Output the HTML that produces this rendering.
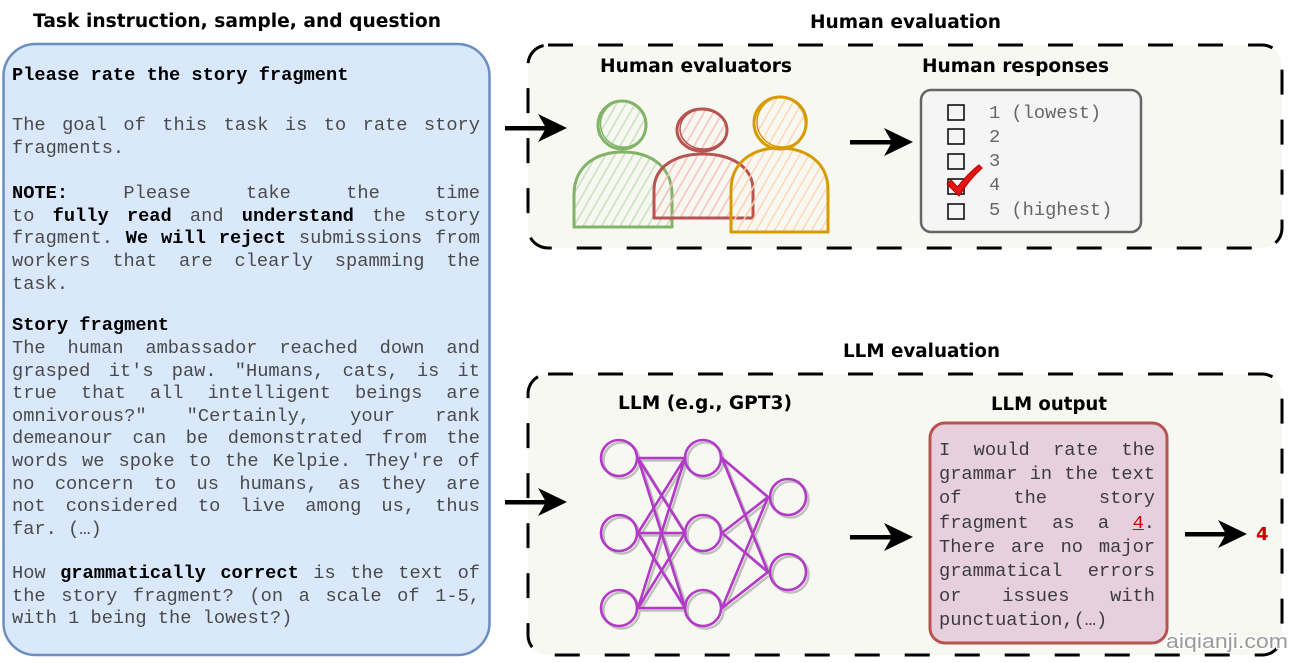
<!DOCTYPE html>
<html>
<head>
<meta charset="utf-8">
<style>
  html, body { margin: 0; padding: 0; background: #ffffff; }
  #wrap { position: relative; width: 1299px; height: 663px; overflow: hidden; background: #ffffff; }
  svg { position: absolute; left: 0; top: 0; }
  .m { position: absolute; font-family: "Liberation Mono", "Courier New", monospace; font-size: 18.7px; line-height: 22.6px; height: 22.6px; color: #4a4a4a; white-space: normal; }
  .m b { color: #000; font-weight: bold; }
  .L { left: 12px; width: 468px; }
  .O { left: 939px; width: 216px; color: #3c3c3c; }
  .j { text-align: justify; text-align-last: justify; }
  .r { left: 989px; color: #666; }
</style>
</head>
<body>
<div id="wrap">
<svg width="1299" height="663" viewBox="0 0 1299 663" xmlns="http://www.w3.org/2000/svg">
  <defs>
    <pattern id="hg" width="8" height="8" patternUnits="userSpaceOnUse" patternTransform="rotate(30)">
      <line x1="2" y1="0" x2="2" y2="8" stroke="#c4e0b8" stroke-width="1.5"/>
    </pattern>
    <pattern id="hr" width="8" height="8" patternUnits="userSpaceOnUse" patternTransform="rotate(30)">
      <line x1="2" y1="0" x2="2" y2="8" stroke="#f5c0bd" stroke-width="1.5"/>
    </pattern>
    <pattern id="ho" width="8" height="8" patternUnits="userSpaceOnUse" patternTransform="rotate(30)">
      <line x1="2" y1="0" x2="2" y2="8" stroke="#ffd6b5" stroke-width="1.5"/>
    </pattern>
  </defs>

  <!-- Titles -->
  <g font-family="'DejaVu Sans', Verdana, sans-serif" font-weight="bold" font-size="18.5" fill="#000">
    <text x="237" y="27" text-anchor="middle" textLength="408" lengthAdjust="spacingAndGlyphs">Task instruction, sample, and question</text>
    <text x="905.5" y="28" text-anchor="middle" textLength="191" lengthAdjust="spacingAndGlyphs">Human evaluation</text>
    <text x="921.5" y="357" text-anchor="middle" textLength="157" lengthAdjust="spacingAndGlyphs">LLM evaluation</text>
  </g>

  <!-- Left instruction box -->
  <rect x="3.5" y="44" width="486" height="611" rx="32" ry="32" fill="#dae8fc" stroke="#6c8ebf" stroke-width="2.5"/>

  <!-- Human evaluation dashed box -->
  <rect x="528" y="45" width="754" height="203" rx="20" ry="20" fill="#f8f8f3" stroke="#000" stroke-width="3" stroke-dasharray="25 25"/>
  <!-- LLM evaluation dashed box -->
  <rect x="528" y="374" width="754" height="281" rx="20" ry="20" fill="#f8f8f3" stroke="#000" stroke-width="3" stroke-dasharray="25 25"/>

  <!-- Section labels -->
  <g font-family="'DejaVu Sans', Verdana, sans-serif" font-weight="bold" font-size="18.5" fill="#000">
    <text x="696" y="72" text-anchor="middle" textLength="192" lengthAdjust="spacingAndGlyphs">Human evaluators</text>
    <text x="1015.5" y="72" text-anchor="middle" textLength="187" lengthAdjust="spacingAndGlyphs">Human responses</text>
    <text x="705" y="409" text-anchor="middle" textLength="174" lengthAdjust="spacingAndGlyphs">LLM (e.g., GPT3)</text>
    <text x="1049" y="410" text-anchor="middle" textLength="116" lengthAdjust="spacingAndGlyphs">LLM output</text>
  </g>

  <!-- People -->
  <!-- green -->
  <path d="M574,227 L574,195 C574,166 596,152 623,152 C650,152 672,166 672,195 L672,227 Z" fill="url(#hg)" stroke="#82b366" stroke-width="3" stroke-linejoin="round"/>
  <circle cx="622" cy="125" r="24" fill="url(#hg)" stroke="#82b366" stroke-width="3"/>
  <circle cx="623.5" cy="124" r="23" fill="none" stroke="#82b366" stroke-width="1.5"/>
  <!-- red -->
  <path d="M654,218 L654,190 C654,166 676,154 703,154 C730,154 753,166 753,190 L753,218 Z" fill="url(#hr)" stroke="#b85450" stroke-width="3" stroke-linejoin="round"/>
  <ellipse cx="702" cy="130" rx="25" ry="21" fill="url(#hr)" stroke="#b85450" stroke-width="3"/>
  <ellipse cx="703.5" cy="129" rx="23.5" ry="20" fill="none" stroke="#b85450" stroke-width="1.5"/>
  <!-- orange -->
  <path d="M731,232 L731,190 C731,162 753,148 779,148 C806,148 828,162 828,190 L828,232 Z" fill="url(#ho)" stroke="#d79b00" stroke-width="3" stroke-linejoin="round"/>
  <circle cx="780" cy="123" r="26" fill="url(#ho)" stroke="#d79b00" stroke-width="3"/>
  <circle cx="782" cy="122" r="25" fill="none" stroke="#d79b00" stroke-width="1.5"/>

  <!-- Human responses box -->
  <rect x="921" y="90" width="220" height="142" rx="10" ry="10" fill="#f5f5f5" stroke="#666" stroke-width="2.5"/>
  <g fill="none" stroke="#111" stroke-width="1.6">
    <rect x="948" y="105" width="16" height="15"/>
    <rect x="948" y="129" width="16" height="15"/>
    <rect x="948" y="154" width="16" height="15"/>
    <rect x="948" y="179" width="16" height="15"/>
    <rect x="948" y="204" width="16" height="15"/>
  </g>
  <!-- red check -->
  <path d="M947,184 L951,180 L957.5,187 C963,180 970,172 979,165 L982,168 C973,176 965,186 959,196 Z" fill="#e31414" stroke="#c40000" stroke-width="1.2" stroke-linejoin="round"/>

  <!-- Neural net -->
  <g stroke-linecap="round">
    <g stroke="#9a9a9a" stroke-width="2.5" opacity="0.6" fill="none" transform="translate(2.5,2.5)">
      <line x1="638" y1="458" x2="685" y2="458"/><line x1="638" y1="458" x2="685" y2="533"/><line x1="638" y1="458" x2="685" y2="608"/>
      <line x1="638" y1="533" x2="685" y2="458"/><line x1="638" y1="533" x2="685" y2="533"/><line x1="638" y1="533" x2="685" y2="608"/>
      <line x1="638" y1="608" x2="685" y2="458"/><line x1="638" y1="608" x2="685" y2="533"/><line x1="638" y1="608" x2="685" y2="608"/>
      <line x1="722" y1="458" x2="768" y2="497"/><line x1="722" y1="458" x2="768" y2="572"/>
      <line x1="722" y1="533" x2="768" y2="497"/><line x1="722" y1="533" x2="768" y2="572"/>
      <line x1="722" y1="608" x2="768" y2="497"/><line x1="722" y1="608" x2="768" y2="572"/>
      <circle cx="619" cy="458" r="18"/><circle cx="619" cy="533" r="18"/><circle cx="619" cy="608" r="18"/>
      <circle cx="703" cy="458" r="18"/><circle cx="703" cy="533" r="18"/><circle cx="703" cy="608" r="18"/>
      <circle cx="788" cy="497" r="18"/><circle cx="788" cy="572" r="18"/>
    </g>
    <g stroke="#b23ac6" stroke-width="2.6" fill="none">
      <line x1="638" y1="458" x2="685" y2="458"/><line x1="638" y1="458" x2="685" y2="533"/><line x1="638" y1="458" x2="685" y2="608"/>
      <line x1="638" y1="533" x2="685" y2="458"/><line x1="638" y1="533" x2="685" y2="533"/><line x1="638" y1="533" x2="685" y2="608"/>
      <line x1="638" y1="608" x2="685" y2="458"/><line x1="638" y1="608" x2="685" y2="533"/><line x1="638" y1="608" x2="685" y2="608"/>
      <line x1="722" y1="458" x2="768" y2="497"/><line x1="722" y1="458" x2="768" y2="572"/>
      <line x1="722" y1="533" x2="768" y2="497"/><line x1="722" y1="533" x2="768" y2="572"/>
      <line x1="722" y1="608" x2="768" y2="497"/><line x1="722" y1="608" x2="768" y2="572"/>
      <circle cx="619" cy="458" r="18"/><circle cx="619" cy="533" r="18"/><circle cx="619" cy="608" r="18"/>
      <circle cx="703" cy="458" r="18"/><circle cx="703" cy="533" r="18"/><circle cx="703" cy="608" r="18"/>
      <circle cx="788" cy="497" r="18"/><circle cx="788" cy="572" r="18"/>
    </g>
  </g>

  <!-- LLM output box -->
  <rect x="930" y="423" width="237" height="220" rx="15" ry="15" fill="#e6d0de" stroke="#b85450" stroke-width="3"/>

  <!-- Arrows -->
  <g fill="#000" stroke="none">
    <rect x="505" y="126" width="42" height="4.5"/>
    <polygon points="567,128 538,114 546,128 538,142"/>
    <rect x="850" y="140" width="44" height="4.5"/>
    <polygon points="913,142 884,128 892,142 884,156"/>
    <rect x="505" y="500" width="42" height="4.5"/>
    <polygon points="567,502 538,488 546,502 538,516"/>
    <rect x="850" y="535" width="44" height="4.5"/>
    <polygon points="913,537 884,523 892,537 884,551"/>
    <rect x="1185" y="532" width="43" height="4.5"/>
    <polygon points="1247,534 1218,520 1226,534 1218,548"/>
  </g>

  <!-- final red 4 -->
  <text x="1256" y="540" font-family="'DejaVu Sans', Verdana, sans-serif" font-weight="bold" font-size="18" fill="#cc0000">4</text>

  <!-- watermark -->
  <text x="1166" y="648" font-family="'Liberation Sans', Arial, sans-serif" font-size="20" fill="#9a9a9a" stroke="#ffffff" stroke-width="2.5" paint-order="stroke" textLength="122" lengthAdjust="spacingAndGlyphs">aiqianji.com</text>
</svg>

<!-- Left box text -->
<div class="m L" style="top:64.2px;"><b>Please rate the story fragment</b></div>
<div class="m L j" style="top:114.4px;">The goal of this task is to rate story</div>
<div class="m L" style="top:137px;">fragments.</div>
<div class="m L j" style="top:182.2px;"><b>NOTE:</b> Please take the time</div>
<div class="m L j" style="top:204.8px;">to <b>fully read</b> and <b>understand</b> the story</div>
<div class="m L j" style="top:227.4px;">fragment. <b>We will reject</b> submissions from</div>
<div class="m L j" style="top:250px;">workers that are clearly spamming the</div>
<div class="m L" style="top:272.6px;">task.</div>
<div class="m L" style="top:314.4px;"><b>Story fragment</b></div>
<div class="m L j" style="top:337px;">The human ambassador reached down and</div>
<div class="m L j" style="top:359.6px;">grasped it's paw. "Humans, cats, is it</div>
<div class="m L j" style="top:382.2px;">true that all intelligent beings are</div>
<div class="m L j" style="top:404.8px;">omnivorous?" "Certainly, your rank</div>
<div class="m L j" style="top:427.4px;">demeanour can be demonstrated from the</div>
<div class="m L j" style="top:450px;">words we spoke to the Kelpie. They're of</div>
<div class="m L j" style="top:472.6px;">no concern to us humans, as they are</div>
<div class="m L j" style="top:495.2px;">not considered to live among us, thus</div>
<div class="m L" style="top:517.8px;">far. (…)</div>
<div class="m L j" style="top:562px;">How <b>grammatically correct</b> is the text of</div>
<div class="m L j" style="top:584.6px;">the story fragment? (on a scale of 1-5,</div>
<div class="m L" style="top:607.2px;">with 1 being the lowest?)</div>

<!-- Human responses text -->
<div class="m r" style="top:101.7px;">1 (lowest)</div>
<div class="m r" style="top:125.7px;">2</div>
<div class="m r" style="top:149.7px;">3</div>
<div class="m r" style="top:173.7px;">4</div>
<div class="m r" style="top:198.7px;">5 (highest)</div>

<!-- LLM output text -->
<div class="m O j" style="top:438.7px;">I would rate the</div>
<div class="m O j" style="top:463px;">grammar in the text</div>
<div class="m O j" style="top:487.3px;">of the story</div>
<div class="m O j" style="top:511.6px;">fragment as a <u style="color:#cc0000;">4</u>.</div>
<div class="m O j" style="top:535.9px;">There are no major</div>
<div class="m O j" style="top:560.2px;">grammatical errors</div>
<div class="m O j" style="top:584.5px;">or issues with</div>
<div class="m O" style="top:608.8px;">punctuation,(…)</div>
</div>
</body>
</html>
